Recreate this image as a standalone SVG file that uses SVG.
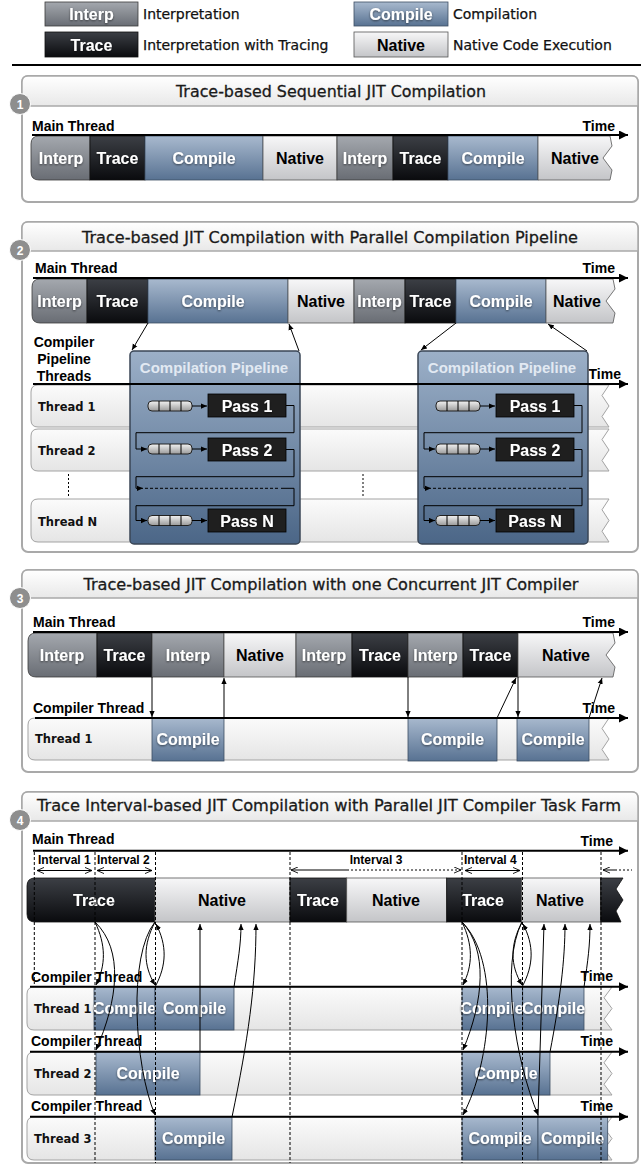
<svg xmlns="http://www.w3.org/2000/svg" width="641" height="1166" viewBox="0 0 641 1166">
<defs>
<linearGradient id="gI" x1="0" y1="0" x2="0" y2="1"><stop offset="0" stop-color="#a4a8ae"/><stop offset="1" stop-color="#696d74"/></linearGradient>
<linearGradient id="gT" x1="0" y1="0" x2="0" y2="1"><stop offset="0" stop-color="#3c3f45"/><stop offset="1" stop-color="#0a0b0e"/></linearGradient>
<linearGradient id="gC" x1="0" y1="0" x2="0" y2="1"><stop offset="0" stop-color="#a8b9ce"/><stop offset="1" stop-color="#587292"/></linearGradient>
<linearGradient id="gN" x1="0" y1="0" x2="0" y2="1"><stop offset="0" stop-color="#f7f7f8"/><stop offset="1" stop-color="#c4c5c8"/></linearGradient>
<linearGradient id="gR" x1="0" y1="0" x2="0" y2="1"><stop offset="0" stop-color="#fbfbfb"/><stop offset="1" stop-color="#e5e5e5"/></linearGradient>
<linearGradient id="gP" x1="0" y1="0" x2="0" y2="1"><stop offset="0" stop-color="#9cb0c8"/><stop offset="1" stop-color="#4b6687"/></linearGradient>
<linearGradient id="gH" x1="0" y1="0" x2="0" y2="1"><stop offset="0" stop-color="#ffffff"/><stop offset="1" stop-color="#e8e8e8"/></linearGradient>
<linearGradient id="gQ" x1="0" y1="0" x2="0" y2="1"><stop offset="0" stop-color="#f2f2f2"/><stop offset="1" stop-color="#9a9a9a"/></linearGradient>
<filter id="sh" x="-10%" y="-20%" width="120%" height="140%"><feDropShadow dx="0" dy="1" stdDeviation="0.8" flood-color="#000" flood-opacity="0.55"/></filter>
<marker id="ah" viewBox="0 0 10 10" refX="10" refY="5" markerWidth="11" markerHeight="9" markerUnits="userSpaceOnUse" orient="auto"><path d="M0,0 L10,5 L0,10 z" fill="#000"/></marker>
<marker id="sa" viewBox="0 0 8 8" refX="8" refY="4" markerWidth="6" markerHeight="6" markerUnits="userSpaceOnUse" orient="auto"><path d="M0,0.5 L8,4 L0,7.5 z" fill="#000"/></marker>
<marker id="oa" viewBox="0 0 8 8" refX="8" refY="4" markerWidth="8" markerHeight="7" markerUnits="userSpaceOnUse" orient="auto-start-reverse"><path d="M0,0.5 L8,4 L0,7.5" fill="none" stroke="#000" stroke-width="1"/></marker>
<style>
.pn{fill:#fff;stroke:#a9a9a9;stroke-width:2}
.tb{fill:url(#gH);stroke:#a9a9a9;stroke-width:1.5}
.ttl{font-family:"DejaVu Sans","Liberation Sans",sans-serif;font-size:15.5px;fill:#1a1a1a;stroke:#1a1a1a;stroke-width:0.3;text-anchor:middle}
.bdc{fill:#8e8e8e;stroke:#fff;stroke-width:1}
.bdt{font-family:"Liberation Sans",Arial,sans-serif;font-weight:bold;font-size:12px;fill:#fff;text-anchor:middle}
.lb{font-family:"Liberation Sans",Arial,sans-serif;font-weight:bold;font-size:14px;fill:#000}
.tm{font-family:"Liberation Sans",Arial,sans-serif;font-weight:bold;font-size:14px;fill:#000;text-anchor:end}
.bt{font-family:"Liberation Sans",Arial,sans-serif;font-weight:bold;font-size:16px;text-anchor:middle}
.w{fill:#fff;filter:url(#sh)}
.k{fill:#000}
.sI{fill:url(#gI);stroke:#3a3a3a;stroke-width:0.8}
.sT{fill:url(#gT);stroke:#111;stroke-width:0.8}
.sC{fill:url(#gC);stroke:#3d4e63;stroke-width:0.8}
.sN{fill:url(#gN);stroke:#555;stroke-width:0.8}
.row{fill:url(#gR);stroke:#a3a3a3;stroke-width:1}
.ax{stroke:#000;stroke-width:2;fill:none;marker-end:url(#ah)}
.cn{stroke:#000;stroke-width:1;fill:none;marker-end:url(#sa)}
.pl{stroke:#000;stroke-width:1;fill:none}
.dl{stroke:#000;stroke-width:1;stroke-dasharray:3 2;fill:none}
.dt{stroke:#000;stroke-width:1;stroke-dasharray:2 2;fill:none}
.th{font-family:"DejaVu Sans","Liberation Sans",sans-serif;font-weight:bold;font-size:11.5px;fill:#111}
.ds{font-family:"DejaVu Sans","Liberation Sans",sans-serif;font-size:14px;fill:#111;stroke:#111;stroke-width:0.25}
.pipe{fill:url(#gP);stroke:#3a4656;stroke-width:1.5}
.pt{font-family:"Liberation Sans",Arial,sans-serif;font-weight:bold;font-size:15px;fill:#e2e9f2;text-anchor:middle}
.pass{fill:#1f1f1f;stroke:#000;stroke-width:0.8}
.q{fill:url(#gQ);stroke:#222;stroke-width:1}
.iv{font-family:"Liberation Sans",Arial,sans-serif;font-weight:bold;font-size:12px;fill:#000}
.ia{stroke:#000;stroke-width:1;fill:none;marker-start:url(#oa);marker-end:url(#oa)}
</style>
</defs>

<g id="legend">
<rect x="45" y="2" width="93" height="24" class="sI"/><text x="91.5" y="20" class="bt w">Interp</text>
<rect x="45" y="32" width="93" height="25" class="sT"/><text x="91.5" y="50.5" class="bt w">Trace</text>
<rect x="354" y="2" width="94" height="24" class="sC"/><text x="401" y="20" class="bt w">Compile</text>
<rect x="354" y="32" width="94" height="25" class="sN"/><text x="401" y="50.5" class="bt k">Native</text>
<text x="143" y="19" class="ds">Interpretation</text>
<text x="143" y="49.5" class="ds">Interpretation with Tracing</text>
<text x="453" y="19" class="ds">Compilation</text>
<text x="453" y="49.5" class="ds">Native Code Execution</text>
<line x1="12" y1="65" x2="641" y2="65" stroke="#000" stroke-width="2"/>
</g>

<!-- PANEL 1 -->
<g id="panel1">
<rect x="22" y="76" width="616" height="126" rx="6" class="pn"/>
<path d="M28,76 H632 Q638,76 638,82 V106 H22 V82 Q22,76 28,76 Z" class="tb"/>
<text x="331" y="96.5" class="ttl" textLength="310" lengthAdjust="spacingAndGlyphs">Trace-based Sequential JIT Compilation</text>
<circle cx="20" cy="104" r="10.5" class="bdc"/><text x="20" y="108.5" class="bdt">1</text>
<text x="32" y="131" class="lb">Main Thread</text>
<text x="615" y="131" class="tm">Time</text>
</g>
<g id="p1-main-bar">
<path d="M39,136 H90 V180 H39 Q31,180 31,172 V144 Q31,136 39,136 Z" class="sI"/>
<rect x="90" y="136" width="55" height="44" class="sT"/>
<rect x="145" y="136" width="118" height="44" class="sC"/>
<rect x="263" y="136" width="74" height="44" class="sN"/>
<rect x="337" y="136" width="56" height="44" class="sI"/>
<rect x="393" y="136" width="55" height="44" class="sT"/>
<rect x="448" y="136" width="90" height="44" class="sC"/>
<path d="M538,136 H610 L612,146 L603,158 L612,170 L610,180 H538 Z" class="sN"/>
<text x="61" y="164" class="bt w">Interp</text>
<text x="117.5" y="164" class="bt w">Trace</text>
<text x="204" y="164" class="bt w">Compile</text>
<text x="300" y="164" class="bt k">Native</text>
<text x="365" y="164" class="bt w">Interp</text>
<text x="420.5" y="164" class="bt w">Trace</text>
<text x="493" y="164" class="bt w">Compile</text>
<text x="575" y="164" class="bt k">Native</text>
</g>
<g id="p1-axes"><path d="M32,135 H628" class="ax"/></g>

<!-- PANEL 2 -->
<g id="panel2">
<rect x="22" y="222" width="616" height="330" rx="6" class="pn"/>
<path d="M28,222 H632 Q638,222 638,228 V251 H22 V228 Q22,222 28,222 Z" class="tb"/>
<text x="330" y="242.5" class="ttl" textLength="496" lengthAdjust="spacingAndGlyphs">Trace-based JIT Compilation with Parallel Compilation Pipeline</text>
<circle cx="20" cy="250" r="10.5" class="bdc"/><text x="20" y="254.5" class="bdt">2</text>
<text x="35" y="273" class="lb">Main Thread</text>
<text x="615" y="273" class="tm">Time</text>
<text x="64" y="347" class="lb" text-anchor="middle">Compiler</text>
<text x="64" y="364" class="lb" text-anchor="middle">Pipeline</text>
<text x="64" y="381" class="lb" text-anchor="middle">Threads</text>
<text x="621" y="379" class="tm">Time</text>
</g>
<g id="p2-main-bar">
<path d="M40,279 H87 V323 H40 Q32,323 32,315 V287 Q32,279 40,279 Z" class="sI"/>
<rect x="87" y="279" width="61" height="44" class="sT"/>
<rect x="148" y="279" width="140" height="44" class="sC"/>
<rect x="288" y="279" width="66" height="44" class="sN"/>
<rect x="354" y="279" width="51" height="44" class="sI"/>
<rect x="405" y="279" width="51" height="44" class="sT"/>
<rect x="456" y="279" width="90" height="44" class="sC"/>
<path d="M546,279 H613 L615,289 L606,301 L615,313 L613,323 H546 Z" class="sN"/>
<text x="59.5" y="307" class="bt w">Interp</text>
<text x="117.5" y="307" class="bt w">Trace</text>
<text x="213" y="307" class="bt w">Compile</text>
<text x="321" y="307" class="bt k">Native</text>
<text x="379.5" y="307" class="bt w">Interp</text>
<text x="430.5" y="307" class="bt w">Trace</text>
<text x="501" y="307" class="bt w">Compile</text>
<text x="577" y="307" class="bt k">Native</text>
</g>
<g id="p2-threads">
<path d="M38,385 H609 L602,395.5 L609,406 L602,416.5 L609,427 H38 Q31,427 31,420 V392 Q31,385 38,385 Z" class="row"/>
<path d="M38,429 H609 L602,439.5 L609,450 L602,460.5 L609,471 H38 Q31,471 31,464 V436 Q31,429 38,429 Z" class="row"/>
<path d="M38,499 H609 L602,509.75 L609,520.5 L602,531.25 L609,542 H38 Q31,542 31,535 V506 Q31,499 38,499 Z" class="row"/>
<text x="38" y="411" class="th">Thread 1</text>
<text x="38" y="454.5" class="th">Thread 2</text>
<text x="38" y="525.5" class="th">Thread N</text>
<line x1="68.5" y1="474" x2="68.5" y2="496" class="dt"/>
<line x1="363" y1="474" x2="363" y2="496" class="dt"/>
</g>
<g id="pipeline1">
<rect x="130" y="351" width="170" height="193" rx="4" class="pipe"/>
<text x="214" y="373" class="pt">Compilation Pipeline</text>
<rect x="148" y="401" width="44" height="10" rx="4" class="q"/><path d="M159,401 V411 M170,401 V411 M181,401 V411" class="pl"/>
<rect x="148" y="444" width="44" height="10" rx="4" class="q"/><path d="M159,444 V454 M170,444 V454 M181,444 V454" class="pl"/>
<rect x="148" y="515.5" width="44" height="10" rx="4" class="q"/><path d="M159,515.5 V525.5 M170,515.5 V525.5 M181,515.5 V525.5" class="pl"/>
<rect x="208" y="394" width="78" height="23" class="pass"/><text x="247" y="411.5" class="bt w">Pass 1</text>
<rect x="208" y="438" width="78" height="23" class="pass"/><text x="247" y="455.5" class="bt w">Pass 2</text>
<rect x="208" y="509" width="78" height="23" class="pass"/><text x="247" y="526.5" class="bt w">Pass N</text>
<path d="M192,406 H207" class="cn"/>
<path d="M192,449 H207" class="cn"/>
<path d="M192,520.5 H207" class="cn"/>
<path d="M286,405.5 H294 V432.7 H136 V449 H147" class="cn"/>
<path d="M286,449.5 H294 V476.7 H136 V488.3 H143" class="cn"/>
<path d="M145,488.3 H280" class="dl"/>
<path d="M281,488.3 H294 V505.7 H136 V520.5 H147" class="cn"/>
</g>
<g id="pipeline2" transform="translate(288,0)">
<rect x="130" y="351" width="170" height="193" rx="4" class="pipe"/>
<text x="214" y="373" class="pt">Compilation Pipeline</text>
<rect x="148" y="401" width="44" height="10" rx="4" class="q"/><path d="M159,401 V411 M170,401 V411 M181,401 V411" class="pl"/>
<rect x="148" y="444" width="44" height="10" rx="4" class="q"/><path d="M159,444 V454 M170,444 V454 M181,444 V454" class="pl"/>
<rect x="148" y="515.5" width="44" height="10" rx="4" class="q"/><path d="M159,515.5 V525.5 M170,515.5 V525.5 M181,515.5 V525.5" class="pl"/>
<rect x="208" y="394" width="78" height="23" class="pass"/><text x="247" y="411.5" class="bt w">Pass 1</text>
<rect x="208" y="438" width="78" height="23" class="pass"/><text x="247" y="455.5" class="bt w">Pass 2</text>
<rect x="208" y="509" width="78" height="23" class="pass"/><text x="247" y="526.5" class="bt w">Pass N</text>
<path d="M192,406 H207" class="cn"/>
<path d="M192,449 H207" class="cn"/>
<path d="M192,520.5 H207" class="cn"/>
<path d="M286,405.5 H294 V432.7 H136 V449 H147" class="cn"/>
<path d="M286,449.5 H294 V476.7 H136 V488.3 H143" class="cn"/>
<path d="M145,488.3 H280" class="dl"/>
<path d="M281,488.3 H294 V505.7 H136 V520.5 H147" class="cn"/>
</g>
<g id="p2-connectors">
<path d="M33,278 H628" class="ax"/>
<path d="M33,384 H628" class="ax"/>
<path d="M148,323 L132,350" class="cn"/>
<path d="M299,351 L289,324" class="cn"/>
<path d="M456,323 L421,350" class="cn"/>
<path d="M587,351 L548,324" class="cn"/>
</g>

<!-- PANEL 3 -->
<g id="panel3">
<rect x="22" y="570" width="616" height="202" rx="6" class="pn"/>
<path d="M28,570 H632 Q638,570 638,576 V598 H22 V576 Q22,570 28,570 Z" class="tb"/>
<text x="331" y="590" class="ttl" textLength="495" lengthAdjust="spacingAndGlyphs">Trace-based JIT Compilation with one Concurrent JIT Compiler</text>
<circle cx="20" cy="598" r="10.5" class="bdc"/><text x="20" y="602.5" class="bdt">3</text>
<text x="33" y="627" class="lb">Main Thread</text>
<text x="615" y="627" class="tm">Time</text>
<text x="33" y="713" class="lb">Compiler Thread</text>
<text x="615" y="713" class="tm">Time</text>
</g>
<g id="p3-main-bar">
<path d="M36,633 H97 V677 H36 Q28,677 28,669 V641 Q28,633 36,633 Z" class="sI"/>
<rect x="97" y="633" width="55" height="44" class="sT"/>
<rect x="152" y="633" width="72" height="44" class="sI"/>
<rect x="224" y="633" width="72" height="44" class="sN"/>
<rect x="296" y="633" width="56" height="44" class="sI"/>
<rect x="352" y="633" width="56" height="44" class="sT"/>
<rect x="408" y="633" width="55" height="44" class="sI"/>
<rect x="463" y="633" width="55" height="44" class="sT"/>
<path d="M518,633 H613 L615,643 L606,655 L615,667 L613,677 H518 Z" class="sN"/>
<text x="62" y="661" class="bt w">Interp</text>
<text x="124.5" y="661" class="bt w">Trace</text>
<text x="188" y="661" class="bt w">Interp</text>
<text x="260" y="661" class="bt k">Native</text>
<text x="324" y="661" class="bt w">Interp</text>
<text x="380" y="661" class="bt w">Trace</text>
<text x="435.5" y="661" class="bt w">Interp</text>
<text x="490.5" y="661" class="bt w">Trace</text>
<text x="566" y="661" class="bt k">Native</text>
</g>
<g id="p3-thread1">
<path d="M35,718 H609 L602,728.5 L609,739 L602,749.5 L609,760 H35 Q28,760 28,753 V725 Q28,718 35,718 Z" class="row"/>
<text x="35" y="742.5" class="th">Thread 1</text>
<rect x="152" y="718" width="72" height="43" class="sC"/><text x="188" y="745" class="bt w">Compile</text>
<rect x="408" y="718" width="89" height="43" class="sC"/><text x="452.5" y="745" class="bt w">Compile</text>
<rect x="517" y="718" width="72" height="43" class="sC"/><text x="553" y="745" class="bt w">Compile</text>
</g>
<g id="p3-connectors">
<path d="M33,632 H628" class="ax"/>
<path d="M35,718 H628" class="ax"/>
<path d="M152,677 V717" class="cn"/>
<path d="M224,718 V678" class="cn"/>
<path d="M408,677 V717" class="cn"/>
<path d="M497,718 L516,678" class="cn"/>
<path d="M518,677 V717" class="cn"/>
<path d="M589,718 L602,678" class="cn"/>
</g>

<!-- PANEL 4 -->
<g id="panel4">
<rect x="22" y="792" width="616" height="371" rx="6" class="pn"/>
<path d="M28,792 H632 Q638,792 638,798 V821 H22 V798 Q22,792 28,792 Z" class="tb"/>
<text x="329" y="811" class="ttl" textLength="584" lengthAdjust="spacingAndGlyphs">Trace Interval-based JIT Compilation with Parallel JIT Compiler Task Farm</text>
<circle cx="20" cy="820" r="10.5" class="bdc"/><text x="20" y="824.5" class="bdt">4</text>
<text x="32" y="844" class="lb">Main Thread</text>
<text x="613" y="846" class="tm">Time</text>
<text x="31" y="982" class="lb">Compiler Thread</text>
<text x="613" y="981" class="tm">Time</text>
<text x="31" y="1046" class="lb">Compiler Thread</text>
<text x="613" y="1046" class="tm">Time</text>
<text x="31" y="1111" class="lb">Compiler Thread</text>
<text x="613" y="1111" class="tm">Time</text>
</g>
<g id="p4-intervals">
<text x="38" y="863.5" class="iv">Interval 1</text>
<text x="97" y="863.5" class="iv">Interval 2</text>
<text x="376" y="863.5" class="iv" text-anchor="middle">Interval 3</text>
<text x="464" y="863.5" class="iv">Interval 4</text>
<line x1="37" y1="870.5" x2="92" y2="870.5" class="ia"/>
<line x1="97" y1="870.5" x2="152" y2="870.5" class="ia"/>
<path d="M347,870 H291" class="pl" marker-end="url(#oa)"/>
<path d="M347,870 H461" class="dt" marker-end="url(#oa)"/>
<line x1="465" y1="870.5" x2="520" y2="870.5" class="ia"/>
<path d="M615,870 H603" class="pl" marker-end="url(#oa)"/>
<path d="M615,870 H632" class="dt"/>
</g>
<g id="p4-main-bar">
<path d="M35,878 H155 V922 H35 Q27,922 27,914 V886 Q27,878 35,878 Z" class="sT"/>
<rect x="155" y="878" width="135" height="44" class="sN"/>
<rect x="290" y="878" width="56.7" height="44" class="sT"/>
<rect x="346.7" y="878" width="100" height="44" class="sN"/>
<rect x="446.7" y="878" width="75" height="44" class="sT"/>
<rect x="521.7" y="878" width="79" height="44" class="sN"/>
<path d="M600.7,878 H623 L616,889 L623,900 L616,911 L621,922 H600.7 Z" class="sT"/>
<text x="94" y="906" class="bt w">Trace</text>
<text x="222" y="906" class="bt k">Native</text>
<text x="318" y="906" class="bt w">Trace</text>
<text x="396" y="906" class="bt k">Native</text>
<text x="483" y="906" class="bt w">Trace</text>
<text x="560" y="906" class="bt k">Native</text>
</g>
<g id="p4-thread1">
<path d="M34,987 H612 L604,997.75 L612,1008.5 L604,1019.25 L612,1030 H34 Q27,1030 27,1023 V994 Q27,987 34,987 Z" class="row"/>
<text x="34" y="1012.5" class="th">Thread 1</text>
<rect x="94" y="987" width="61" height="43" class="sC"/><text x="124.5" y="1014" class="bt w">Compile</text>
<rect x="155" y="987" width="79" height="43" class="sC"/><text x="194.5" y="1014" class="bt w">Compile</text>
<rect x="462" y="987" width="60.7" height="43" class="sC"/><text x="492" y="1014" class="bt w">Compile</text>
<rect x="522.7" y="987" width="61.3" height="43" class="sC"/><text x="553.5" y="1014" class="bt w">Compile</text>
</g>
<g id="p4-thread2">
<path d="M34,1052 H612 L604,1062.75 L612,1073.5 L604,1084.25 L612,1095 H34 Q27,1095 27,1088 V1059 Q27,1052 34,1052 Z" class="row"/>
<text x="34" y="1077.5" class="th">Thread 2</text>
<rect x="96" y="1052" width="104" height="43" class="sC"/><text x="148" y="1079" class="bt w">Compile</text>
<rect x="462" y="1052" width="88" height="43" class="sC"/><text x="506" y="1079" class="bt w">Compile</text>
</g>
<g id="p4-thread3">
<path d="M34,1117 H612 L604,1127.75 L612,1138.5 L604,1149.25 L612,1160 H34 Q27,1160 27,1153 V1124 Q27,1117 34,1117 Z" class="row"/>
<text x="34" y="1142.5" class="th">Thread 3</text>
<rect x="155" y="1117" width="77" height="43" class="sC"/><text x="193.5" y="1144" class="bt w">Compile</text>
<rect x="462" y="1117" width="76" height="43" class="sC"/><text x="500" y="1144" class="bt w">Compile</text>
<rect x="538" y="1117" width="69.7" height="43" class="sC"/><text x="572.5" y="1144" class="bt w">Compile</text>
</g>
<g id="p4-connectors">
<path d="M33,850.7 H628" class="ax"/>
<path d="M30,986.7 H628" class="ax"/>
<path d="M30,1051.7 H628" class="ax"/>
<path d="M30,1116.7 H628" class="ax"/>
<path d="M34.3,852 V984" class="dl"/>
<path d="M95,852 V1163" class="dl"/>
<path d="M155.5,852 V1163" class="dl"/>
<path d="M290,852 V1163" class="dl"/>
<path d="M462,852 V1163" class="dl"/>
<path d="M522.5,852 V1163" class="dl"/>
<path d="M601,852 V1163" class="dl"/>
<path d="M95,922 C106,945 106,965 96,985" class="cn"/>
<path d="M95,922 C124,950 118,1000 96,1050" class="cn"/>
<path d="M155,922 C143,945 143,965 155,985" class="cn"/>
<path d="M155,987 C167,965 167,945 156,924" class="cn"/>
<path d="M155,922 C128,955 134,1065 155,1115" class="cn"/>
<path d="M200,1052 V924" class="cn"/>
<path d="M234,987 C238,960 241,945 241,924" class="cn"/>
<path d="M232,1117 C248,1040 256,985 256,924" class="cn"/>
<path d="M462,922 C473,945 473,965 463,985" class="cn"/>
<path d="M462,922 C488,950 484,1000 463,1050" class="cn"/>
<path d="M462,922 C500,960 492,1060 463,1115" class="cn"/>
<path d="M522,922 C510,945 510,965 522,985" class="cn"/>
<path d="M522,987 C534,965 534,945 523,924" class="cn"/>
<path d="M522,922 C500,965 515,1060 538,1115" class="cn"/>
<path d="M538,1117 L544,924" class="cn"/>
<path d="M550,1052 C560,1000 565,960 565,924" class="cn"/>
<path d="M584,987 C588,960 590,945 590,924" class="cn"/>
</g>
</svg>
